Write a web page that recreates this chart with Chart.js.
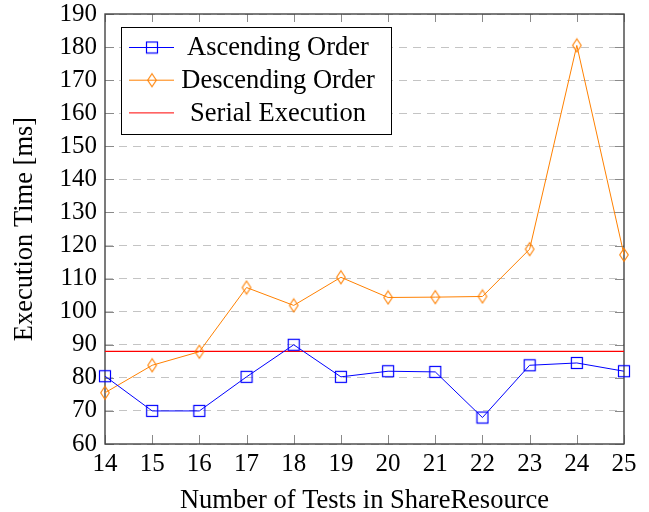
<!DOCTYPE html>
<html lang="en">
<head>
<meta charset="UTF-8">
<title>Execution Time</title>
<script src="https://cdn.jsdelivr.net/npm/chart.js@4.4.1/dist/chart.umd.min.js"></script>
<style>
  html, body { margin: 0; padding: 0; background: #fff; }
  #wrap { width: 649px; height: 512px; position: relative; }
</style>
</head>
<body>
<div id="wrap"><canvas id="chart"></canvas></div>
<script>
// data
const tests = [14, 15, 16, 17, 18, 19, 20, 21, 22, 23, 24, 25];
const ascending = [80.5, 70, 70, 80.3, 90, 80.3, 82, 81.8, 68, 83.8, 84.5, 82];
const descending = [75.5, 83.8, 87.9, 107.3, 101.9, 110.4, 104.3, 104.4, 104.6, 118.9, 180.5, 117.2];
const serialTime = 88;
const yTicks = [60, 70, 80, 90, 100, 110, 120, 130, 140, 150, 160, 170, 180, 190];
const labels = ['Ascending Order', 'Descending Order', 'Serial Execution'];

const FONT = "'Liberation Serif', 'Times New Roman', serif";

// open markers like pgfplots
function squareMark() {
    const c = document.createElement('canvas');
    c.width = 14; c.height = 14;
    const g = c.getContext('2d');
    g.strokeStyle = '#0000ff';
    g.lineWidth = 1.2;
    g.strokeRect(1.5, 1.5, 11, 11);
    return c;
}
function diamondMark() {
    const c = document.createElement('canvas');
    c.width = 12; c.height = 16;
    const g = c.getContext('2d');
    g.strokeStyle = '#ff8000';
    g.lineWidth = 1.1;
    g.beginPath();
    g.moveTo(6, 1.5); g.lineTo(10.3, 8); g.lineTo(6, 14.5); g.lineTo(1.7, 8);
    g.closePath();
    g.stroke();
    return c;
}
const sq = squareMark();
const dm = diamondMark();

// frame + inside ticks, and the legend box
const framePlugin = {
    id: 'frame',
    beforeDatasetsDraw(chart) {
        const {ctx, chartArea: a, scales} = chart;
        ctx.save();
        ctx.strokeStyle = '#8a8a8a';
        ctx.lineWidth = 1;
        ctx.beginPath();
        tests.forEach(t => {
            const x = Math.round(scales.x.getPixelForValue(t)) + 0.5;
            ctx.moveTo(x, a.bottom); ctx.lineTo(x, a.bottom - 9);
            ctx.moveTo(x, a.top); ctx.lineTo(x, a.top + 8);
        });
        yTicks.forEach(v => {
            const y = Math.round(scales.y.getPixelForValue(v)) + 0.5;
            ctx.moveTo(a.left, y); ctx.lineTo(a.left + 9, y);
            ctx.moveTo(a.right, y); ctx.lineTo(a.right - 9, y);
        });
        ctx.stroke();
        ctx.strokeStyle = '#444';
        ctx.lineWidth = 1.4;
        ctx.strokeRect(a.left, a.top, a.right - a.left, a.bottom - a.top);
        ctx.restore();
    },
    afterDatasetsDraw(chart) {
        const {ctx, chartArea: a} = chart;
        const bx = a.left + 16, by = a.top + 13, bw = 270, bh = 107;
        ctx.save();
        ctx.fillStyle = '#fff';
        ctx.fillRect(bx, by, bw, bh);
        ctx.strokeStyle = '#000';
        ctx.lineWidth = 1;
        ctx.strokeRect(bx + 0.5, by + 0.5, bw, bh);
        ctx.font = '26.5px ' + FONT;
        ctx.textAlign = 'center';
        ctx.textBaseline = 'middle';
        chart.data.datasets.forEach((ds, i) => {
            const y = by + 20.5 + i * 32.7;
            ctx.strokeStyle = ds.borderColor;
            ctx.lineWidth = 1;
            ctx.beginPath();
            ctx.moveTo(bx + 8, y); ctx.lineTo(bx + 53, y);
            ctx.stroke();
            const m = ds.pointStyle;
            if (m && typeof m !== 'string') {
                ctx.drawImage(m, bx + 31 - m.width / 2, y - m.height / 2);
            }
            ctx.fillStyle = '#000';
            ctx.fillText(ds.label, bx + 157, y + 1);
        });
        ctx.restore();
    }
};

new Chart(document.getElementById('chart'), {
    type: 'line',
    data: {
        datasets: [
            {
                label: labels[0],
                data: tests.map((t, i) => ({x: t, y: ascending[i]})),
                borderColor: '#0000ff',
                borderWidth: 1,
                pointStyle: sq,
                pointRadius: 7,
                clip: false
            },
            {
                label: labels[1],
                data: tests.map((t, i) => ({x: t, y: descending[i]})),
                borderColor: '#ff8000',
                borderWidth: 1,
                pointStyle: dm,
                pointRadius: 7,
                clip: false
            },
            {
                label: labels[2],
                data: [{x: tests[0], y: serialTime}, {x: tests[tests.length - 1], y: serialTime}],
                borderColor: '#ff0000',
                borderWidth: 1.2,
                pointRadius: 0,
                clip: false
            }
        ]
    },
    options: {
        responsive: true,
        maintainAspectRatio: false,
        animation: false,
        events: [],
        layout: { padding: { top: 14, right: 25, left: 10, bottom: 0 } },
        elements: { line: { tension: 0 } },
        plugins: { legend: { display: false }, tooltip: { enabled: false } },
        scales: {
            x: {
                type: 'linear',
                min: 14,
                max: 25,
                afterFit(s) { s.height = 68; s.paddingLeft = 0; s.paddingRight = 0; },
                afterBuildTicks(s) { s.ticks = tests.map(v => ({value: v})); },
                grid: { display: false, drawTicks: false },
                border: { display: false },
                ticks: {
                    padding: 5,
                    color: '#000',
                    font: { family: FONT, size: 25 },
                    maxRotation: 0,
                    autoSkip: false
                },
                title: {
                    display: true,
                    text: 'Number of Tests in ShareResource',
                    color: '#000',
                    padding: 0,
                    font: { family: FONT, size: 26.5, lineHeight: 0.85 }
                }
            },
            y: {
                min: 60,
                max: 190,
                afterFit(s) { s.width = 95; s.paddingTop = 0; s.paddingBottom = 0; },
                afterBuildTicks(s) { s.ticks = yTicks.map(v => ({value: v})); },
                grid: {
                    drawTicks: false,
                    color: '#c4c4c4',
                    lineWidth: 1
                },
                border: { display: false, dash: [8, 6] },
                ticks: {
                    padding: 8,
                    autoSkip: false,
                    color: '#000',
                    font: { family: FONT, size: 25 }
                },
                title: {
                    display: true,
                    text: 'Execution Time [ms]',
                    color: '#000',
                    padding: 0,
                    font: { family: FONT, size: 26.5, lineHeight: 1.1 }
                }
            }
        }
    },
    plugins: [framePlugin]
});
</script>
</body>
</html>
